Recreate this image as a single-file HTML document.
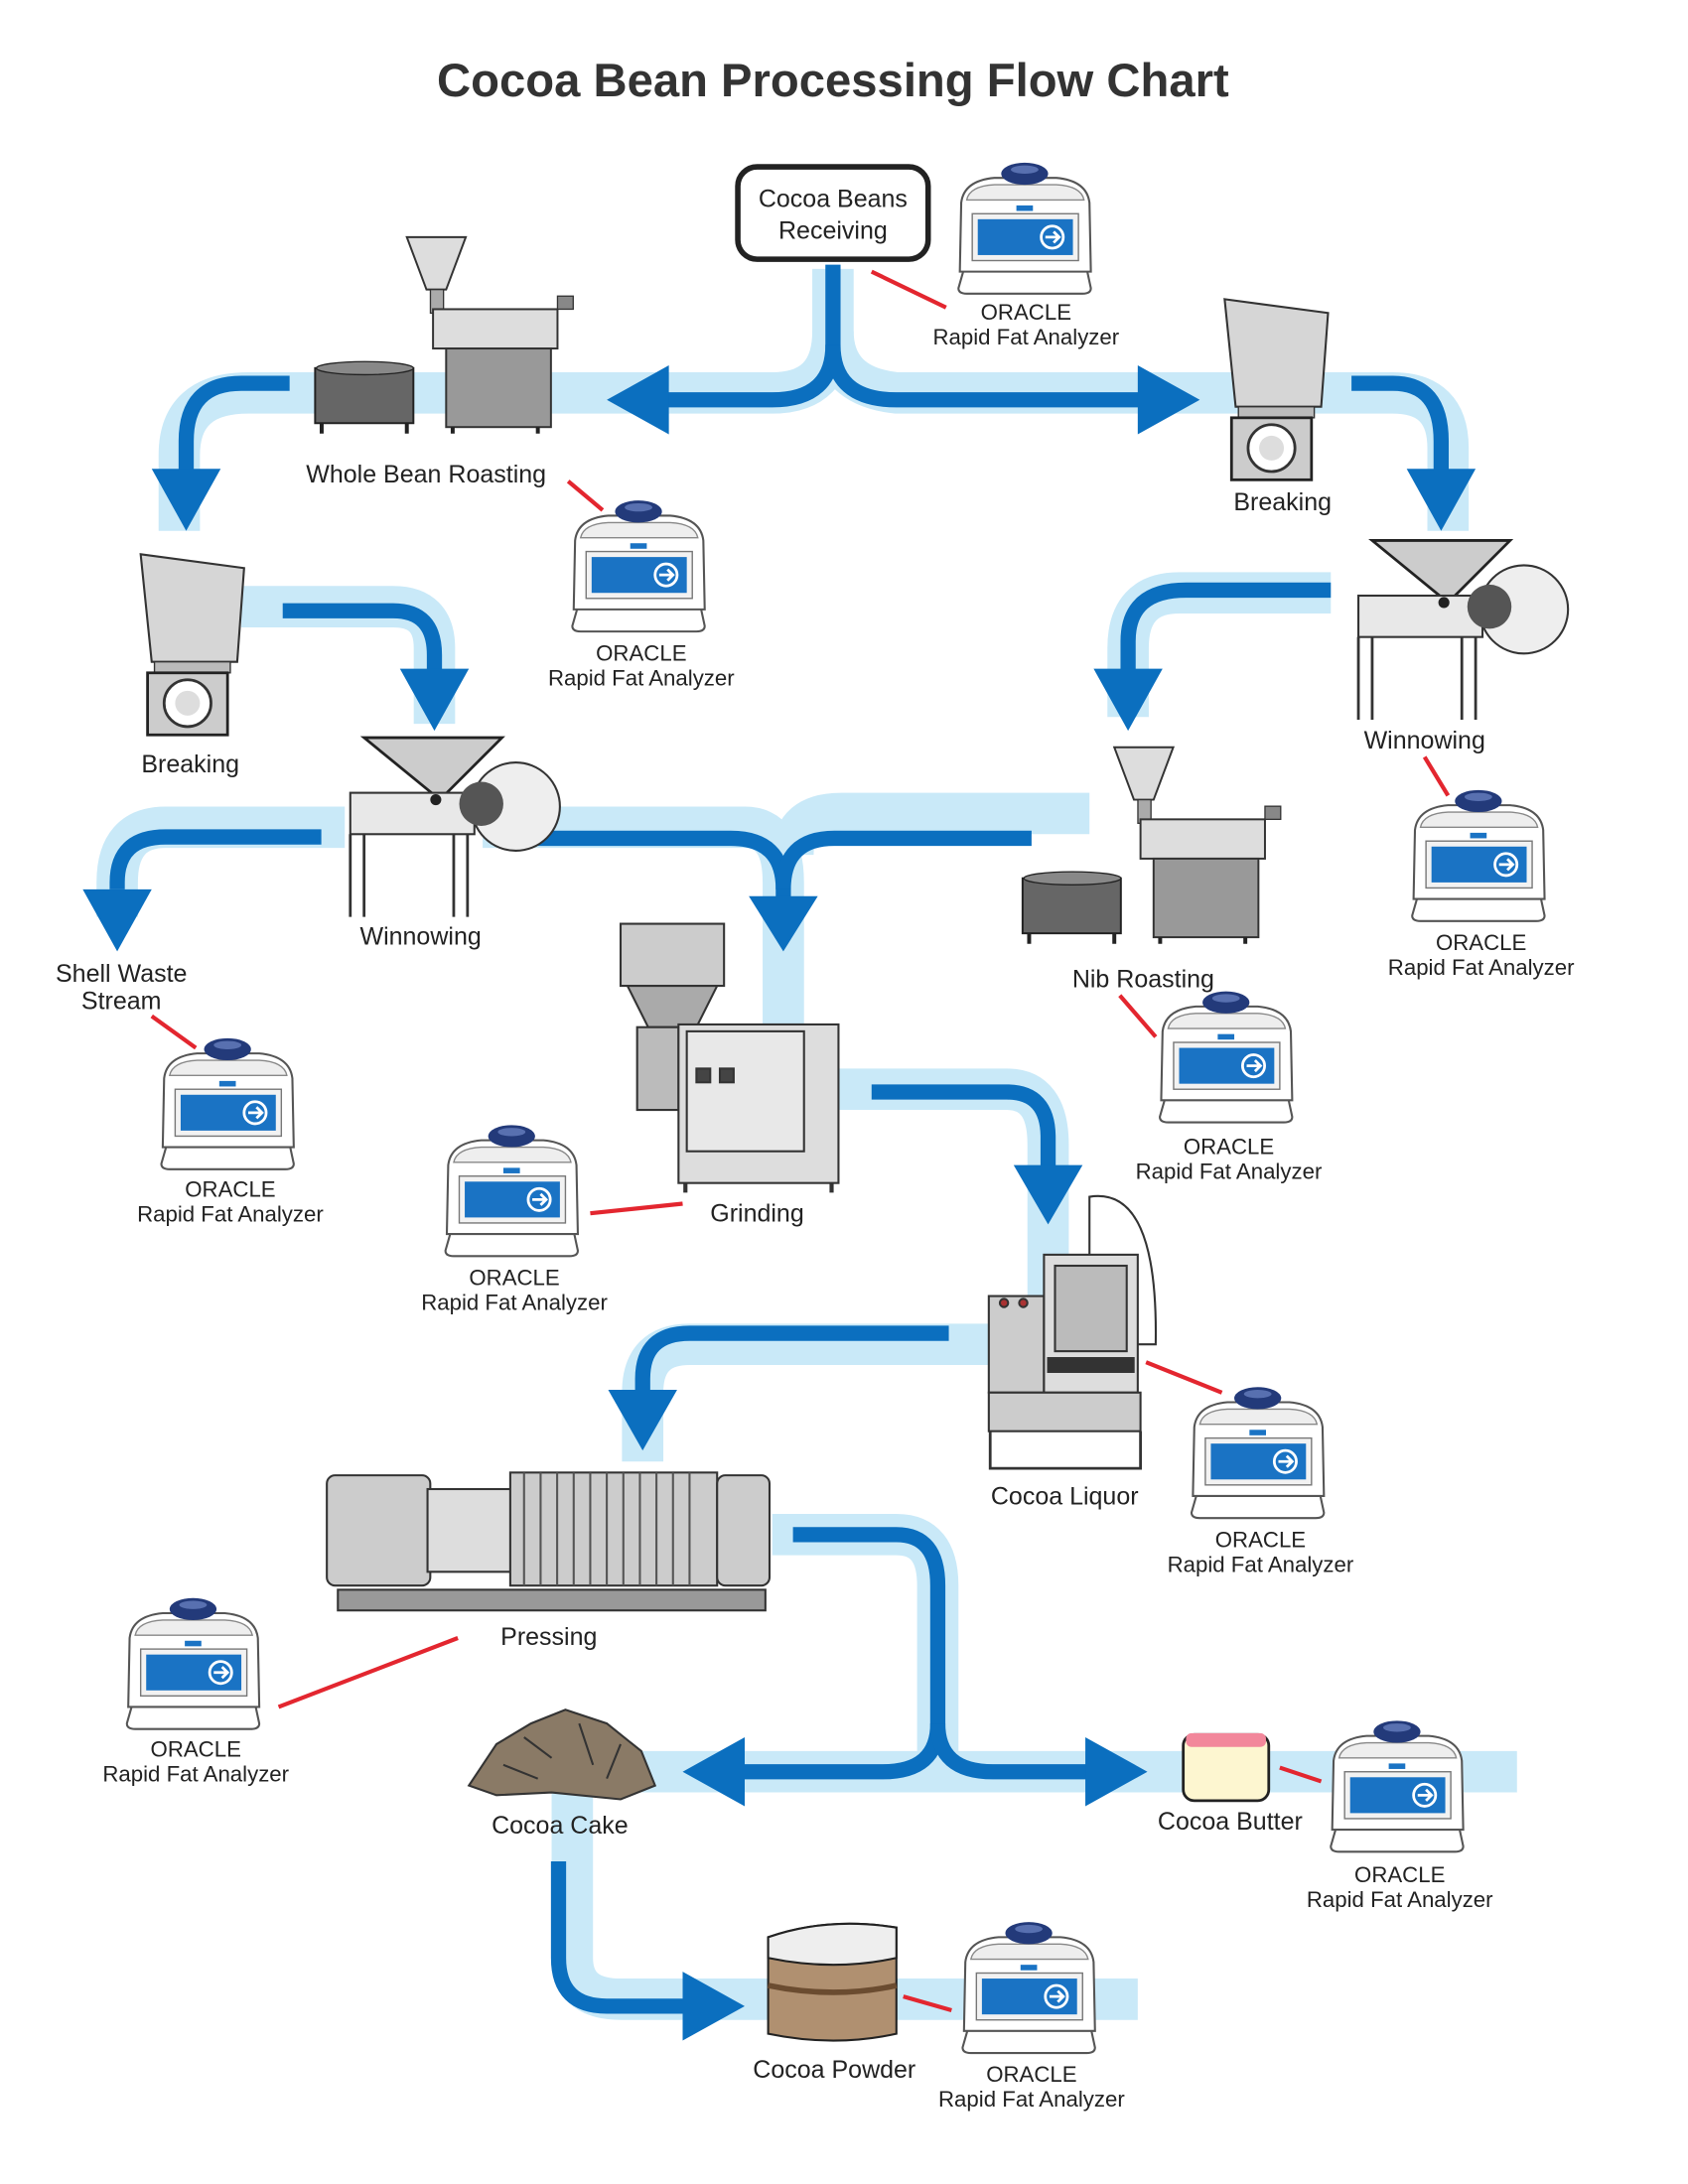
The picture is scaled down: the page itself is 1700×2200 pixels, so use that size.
<!DOCTYPE html>
<html><head><meta charset="utf-8"><style>
html,body{margin:0;padding:0;background:#fff;}
svg{display:block;}
text{font-family:"Liberation Sans",sans-serif;fill:#222;}
</style></head><body>
<svg width="1700" height="2200" viewBox="0 0 1224 1584" xmlns="http://www.w3.org/2000/svg">
<defs>
<g id="an">
 <path d="M8,78 L97,78 L100,92 Q100,96 94,96 L10,96 Q4,96 4,92 Z" fill="#fff" stroke="#555" stroke-width="1.5"/>
 <path d="M6,30 Q8,14 30,12 L75,12 Q97,14 99,30 L100,80 L5,80 Z" fill="#fff" stroke="#555" stroke-width="1.5"/>
 <path d="M10,28 Q12,18 30,17 L75,17 Q93,18 95,28 Z" fill="#eee" stroke="#888"/>
 <ellipse cx="52" cy="9" rx="17" ry="8" fill="#233a7a"/>
 <ellipse cx="52" cy="6" rx="10" ry="3" fill="#5870b0"/>
 <rect x="14" y="38" width="77" height="34" fill="#f2f2f2" stroke="#777"/>
 <rect x="18" y="42" width="69" height="26" fill="#1a73c4"/>
 <circle cx="72" cy="55" r="8" fill="none" stroke="#fff" stroke-width="2"/>
 <path d="M67,55 L77,55 M73,51 L77,55 L73,59" stroke="#fff" stroke-width="2" fill="none"/>
 <rect x="46" y="32" width="12" height="4" fill="#1a73c4"/>
</g>
<g id="brk">
 <path d="M0,12 L75,22 L70,90 L8,90 Z" fill="#d6d6d6" stroke="#333" stroke-width="1.5"/>
 <rect x="10" y="90" width="55" height="8" fill="#bbb" stroke="#333"/>
 <rect x="5" y="98" width="58" height="45" fill="#ccc" stroke="#222" stroke-width="2"/>
 <circle cx="34" cy="120" r="17" fill="#fff" stroke="#333" stroke-width="2"/>
 <circle cx="34" cy="120" r="9" fill="#ddd"/>
</g>
<g id="win">
 <path d="M0,0 L100,0 L55,45 Z" fill="#ccc" stroke="#222" stroke-width="2"/>
 <rect x="-10" y="40" width="90" height="30" fill="#e8e8e8" stroke="#333" stroke-width="1.5"/>
 <circle cx="110" cy="50" r="32" fill="#eee" stroke="#333" stroke-width="1.5"/>
 <circle cx="85" cy="48" r="16" fill="#555"/>
 <circle cx="52" cy="45" r="4" fill="#222"/>
 <path d="M-10,70 L-10,130 M75,70 L75,130 M0,70 L0,130 M65,70 L65,130" stroke="#333" stroke-width="2"/>
</g>
<g id="rst">
 <path d="M0,0 L45,0 L30,40 L15,40 Z" fill="#ddd" stroke="#333" stroke-width="1.5"/>
 <rect x="18" y="40" width="10" height="18" fill="#aaa" stroke="#333"/>
 <rect x="20" y="55" width="95" height="30" fill="#ddd" stroke="#333" stroke-width="1.5"/>
 <rect x="30" y="85" width="80" height="60" fill="#999" stroke="#333" stroke-width="1.5"/>
 <rect x="115" y="45" width="12" height="10" fill="#888" stroke="#333"/>
 <rect x="-70" y="100" width="75" height="42" fill="#666" stroke="#222" stroke-width="1.5"/>
 <ellipse cx="-32" cy="100" rx="37" ry="5" fill="#888" stroke="#222"/>
 <path d="M-65,142 L-65,150 M0,142 L0,150 M35,145 L35,150 M100,145 L100,150" stroke="#222" stroke-width="3"/>
</g>
</defs>

<text x="604" y="70" font-size="34" font-weight="bold" text-anchor="middle" style="fill:#333">Cocoa Bean Processing Flow Chart</text>

<g fill="none" stroke="#c9e9f8" stroke-width="30" stroke-linejoin="round" stroke-linecap="butt">
 <path d="M604,195 L604,240 Q604,280 650,285 L1010,285 Q1050,285 1050,325 L1050,385"/>
 <path d="M604,240 Q604,285 560,285 L180,285 Q130,285 130,330 L130,385"/>
 <path d="M175,440 L285,440 Q315,440 315,470 L315,525"/>
 <path d="M965,430 L855,430 Q818,430 818,470 L818,520"/>
 <path d="M250,600 L120,600 Q85,600 85,640 L85,665"/>
 <path d="M350,600 L540,600 Q568,600 568,640 L568,760 Q568,790 600,790 L730,790 Q760,790 760,830 L760,950 Q760,975 720,975 L500,975 Q466,975 466,1010 L466,1060"/>
 <path d="M790,590 L610,590 Q575,590 575,620"/>
 <path d="M560,1113 L650,1113 Q680,1113 680,1150 L680,1270"/>
 <path d="M450,1285 L1100,1285"/>
 <path d="M415,1285 Q415,1330 415,1420 Q415,1450 450,1450 L825,1450"/>
</g>

<g fill="none" stroke="#0b6fbf" stroke-width="11" stroke-linejoin="round">
 <path d="M604,192 L604,250 Q604,290 560,290 L475,290"/>
 <path d="M604,250 Q604,290 650,290 L830,290"/>
 <path d="M210,278 L175,278 Q135,278 135,320 L135,350"/>
 <path d="M980,278 L1010,278 Q1045,278 1045,320 L1045,350"/>
 <path d="M205,443 L285,443 Q315,443 315,475 L315,495"/>
 <path d="M965,428 L860,428 Q818,428 818,465 L818,495"/>
 <path d="M233,607 L120,607 Q85,607 85,640 L85,645"/>
 <path d="M390,608 L530,608 Q568,608 568,645 L568,660"/>
 <path d="M748,608 L605,608 Q568,608 568,645"/>
 <path d="M632,792 L730,792 Q760,792 760,825 L760,855"/>
 <path d="M688,967 L500,967 Q466,967 466,1000 L466,1020"/>
 <path d="M575,1113 L650,1113 Q680,1113 680,1150 L680,1250 Q680,1285 640,1285 L530,1285"/>
 <path d="M680,1250 Q680,1285 720,1285 L800,1285"/>
 <path d="M405,1350 L405,1420 Q405,1455 440,1455 L505,1455"/>
</g>
<g fill="#0b6fbf">
 <path d="M440,290 L485,265 L485,315 Z"/>
 <path d="M870,290 L825,265 L825,315 Z"/>
 <path d="M135,385 L110,340 L160,340 Z"/>
 <path d="M1045,385 L1020,340 L1070,340 Z"/>
 <path d="M315,530 L290,485 L340,485 Z"/>
 <path d="M818,530 L793,485 L843,485 Z"/>
 <path d="M85,690 L60,645 L110,645 Z"/>
 <path d="M568,690 L543,650 L593,650 Z"/>
 <path d="M760,888 L735,845 L785,845 Z"/>
 <path d="M466,1052 L441,1008 L491,1008 Z"/>
 <path d="M495,1285 L540,1260 L540,1310 Z"/>
 <path d="M832,1285 L787,1260 L787,1310 Z"/>
 <path d="M540,1455 L495,1430 L495,1480 Z"/>
</g>

<rect x="535" y="121" width="138" height="67" rx="14" fill="#fff" stroke="#222" stroke-width="4"/>
<text x="604" y="150" font-size="18" text-anchor="middle">Cocoa Beans</text>
<text x="604" y="173" font-size="18" text-anchor="middle">Receiving</text>

<use href="#rst" transform="translate(295,172) scale(0.95)"/>
<use href="#brk" transform="translate(888,205)"/>
<use href="#brk" transform="translate(102,390)"/>
<use href="#win" transform="translate(995,392)"/>
<use href="#win" transform="translate(264,535)"/>
<use href="#rst" transform="translate(808,542) scale(0.95)"/>
<g stroke="#333" stroke-width="1.5">
 <rect x="450" y="670" width="75" height="45" fill="#ccc"/>
 <path d="M455,715 L520,715 L505,745 L470,745 Z" fill="#aaa"/>
 <rect x="462" y="745" width="30" height="60" fill="#bbb"/>
 <rect x="492" y="743" width="116" height="115" fill="#ddd"/>
 <rect x="498" y="748" width="85" height="87" fill="#e8e8e8"/>
 <rect x="505" y="775" width="10" height="10" fill="#444"/><rect x="522" y="775" width="10" height="10" fill="#444"/>
 <path d="M497,858 L497,865 M603,858 L603,865" stroke-width="3"/>
</g>
<g stroke="#333" stroke-width="1.5">
 <rect x="717" y="940" width="40" height="70" fill="#ccc"/>
 <rect x="757" y="910" width="68" height="100" fill="#ddd"/>
 <rect x="765" y="918" width="52" height="62" fill="#bbb"/>
 <rect x="760" y="985" width="62" height="10" fill="#333"/>
 <rect x="717" y="1010" width="110" height="28" fill="#ccc"/>
 <path d="M718,1038 L718,1065 L827,1065 L827,1038" fill="none" stroke-width="2"/>
 <path d="M790,910 L790,868 Q840,860 838,975 L825,975" fill="none"/>
 <circle cx="728" cy="945" r="3" fill="#a33"/><circle cx="742" cy="945" r="3" fill="#a33"/>
</g>
<g stroke="#333" stroke-width="1.5">
 <rect x="245" y="1153" width="310" height="15" fill="#999"/>
 <rect x="237" y="1070" width="75" height="80" rx="6" fill="#ccc"/>
 <rect x="310" y="1080" width="65" height="60" fill="#ddd"/>
 <rect x="370" y="1068" width="150" height="82" fill="#ccc"/>
 <path d="M380,1068 L380,1150 M392,1068 L392,1150 M404,1068 L404,1150 M416,1068 L416,1150 M428,1068 L428,1150 M440,1068 L440,1150 M452,1068 L452,1150 M464,1068 L464,1150 M476,1068 L476,1150 M488,1068 L488,1150 M500,1068 L500,1150" stroke="#555"/>
 <rect x="520" y="1070" width="38" height="80" rx="6" fill="#ccc"/>
</g>
<g fill="#8a7a66" stroke="#333" stroke-width="1.5">
 <path d="M340,1295 L360,1265 L385,1250 L410,1240 L440,1250 L465,1270 L475,1295 L450,1305 L400,1300 L360,1302 Z"/>
 <path d="M380,1260 L400,1275 M420,1250 L430,1280 M450,1265 L440,1290 M365,1280 L390,1290" fill="none"/>
</g>
<rect x="858" y="1258" width="62" height="48" rx="8" fill="#fdf6d0" stroke="#222" stroke-width="2"/>
<rect x="860" y="1257" width="58" height="10" rx="4" fill="#f2879b"/>
<g stroke="#222" stroke-width="1.5">
 <path d="M557,1405 Q600,1390 650,1398 L650,1475 Q605,1485 557,1475 Z" fill="#b09070"/>
 <path d="M557,1405 Q600,1390 650,1398 L650,1420 Q605,1430 557,1420 Z" fill="#eee"/>
 <path d="M557,1440 Q605,1450 650,1440" fill="none" stroke="#6b4c30" stroke-width="4"/>
</g>

<g font-size="18" text-anchor="middle">
 <text x="309" y="350">Whole Bean Roasting</text>
 <text x="930" y="370">Breaking</text>
 <text x="138" y="560">Breaking</text>
 <text x="1033" y="543">Winnowing</text>
 <text x="305" y="685">Winnowing</text>
 <text x="829" y="716">Nib Roasting</text>
 <text x="88" y="712">Shell Waste</text>
 <text x="88" y="732">Stream</text>
 <text x="549" y="886">Grinding</text>
 <text x="772" y="1091">Cocoa Liquor</text>
 <text x="398" y="1193">Pressing</text>
 <text x="406" y="1330">Cocoa Cake</text>
 <text x="892" y="1327">Cocoa Butter</text>
 <text x="605" y="1507">Cocoa Powder</text>
</g>

<g stroke="#e3262f" stroke-width="3">
 <line x1="632" y1="197" x2="686" y2="223"/>
 <line x1="412" y1="349" x2="437" y2="370"/>
 <line x1="1033" y1="549" x2="1050" y2="577"/>
 <line x1="110" y1="737" x2="142" y2="760"/>
 <line x1="812" y1="722" x2="838" y2="752"/>
 <line x1="428" y1="880" x2="495" y2="873"/>
 <line x1="831" y1="988" x2="886" y2="1010"/>
 <line x1="202" y1="1238" x2="332" y2="1188"/>
 <line x1="928" y1="1282" x2="958" y2="1292"/>
 <line x1="655" y1="1448" x2="690" y2="1458"/>
</g>

<use href="#an" x="691" y="117"/>
<use href="#an" x="411" y="362"/>
<use href="#an" x="1020" y="572"/>
<use href="#an" x="113" y="752"/>
<use href="#an" x="837" y="718"/>
<use href="#an" x="319" y="815"/>
<use href="#an" x="860" y="1005"/>
<use href="#an" x="88" y="1158"/>
<use href="#an" x="961" y="1247"/>
<use href="#an" x="694" y="1393"/>
<g font-size="16" text-anchor="middle">
 <text x="744" y="232">ORACLE</text><text x="744" y="250">Rapid Fat Analyzer</text>
 <text x="465" y="479">ORACLE</text><text x="465" y="497">Rapid Fat Analyzer</text>
 <text x="1074" y="689">ORACLE</text><text x="1074" y="707">Rapid Fat Analyzer</text>
 <text x="167" y="868">ORACLE</text><text x="167" y="886">Rapid Fat Analyzer</text>
 <text x="891" y="837">ORACLE</text><text x="891" y="855">Rapid Fat Analyzer</text>
 <text x="373" y="932">ORACLE</text><text x="373" y="950">Rapid Fat Analyzer</text>
 <text x="914" y="1122">ORACLE</text><text x="914" y="1140">Rapid Fat Analyzer</text>
 <text x="142" y="1274">ORACLE</text><text x="142" y="1292">Rapid Fat Analyzer</text>
 <text x="1015" y="1365">ORACLE</text><text x="1015" y="1383">Rapid Fat Analyzer</text>
 <text x="748" y="1510">ORACLE</text><text x="748" y="1528">Rapid Fat Analyzer</text>
</g>
</svg>
</body></html>
